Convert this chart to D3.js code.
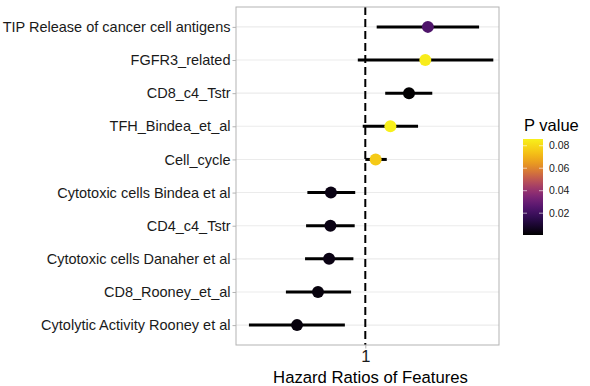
<!DOCTYPE html>
<html>
<head>
<meta charset="utf-8">
<script src="https://cdn.jsdelivr.net/npm/d3@7"></script>
<style>
  body { margin: 0; background: #fff; }
  text { font-family: "Liberation Sans", Arial, sans-serif; }
</style>
</head>
<body>
<div id="chart"></div>
<script>
// features listed top to bottom
const features = [
  "TIP Release of cancer cell antigens",
  "FGFR3_related",
  "CD8_c4_Tstr",
  "TFH_Bindea_et_al",
  "Cell_cycle",
  "Cytotoxic cells Bindea et al",
  "CD4_c4_Tstr",
  "Cytotoxic cells Danaher et al",
  "CD8_Rooney_et_al",
  "Cytolytic Activity Rooney et al"
];
const hazardRatio = [1.242, 1.232, 1.169, 1.097, 1.040, 0.867, 0.865, 0.860, 0.817, 0.736];
const lowerCI     = [1.044, 0.971, 1.077, 0.990, 1.000, 0.776, 0.771, 0.767, 0.693, 0.550];
const upperCI     = [1.440, 1.495, 1.259, 1.204, 1.083, 0.961, 0.959, 0.954, 0.945, 0.921];
const pValues     = [0.024, 0.085, 0.0008, 0.086, 0.076, 0.004, 0.004, 0.004, 0.003, 0.003];
const xTicks = [1];
const legendTicks = [0.02, 0.04, 0.06, 0.08];

const W = 590, H = 386;
const panel = {left: 236, right: 499, top: 7, bottom: 345};

const svg = d3.select("#chart").append("svg")
    .attr("width", W)
    .attr("height", H);

const x = d3.scaleLinear()
    .domain([0.5, 1.517])
    .range([panel.left, panel.right]);

const y = d3.scalePoint()
    .domain(features)
    .range([panel.top, panel.bottom])
    .padding(0.6);

const pExtent = [0.0006, 0.086];
const colorStops = ["#000000", "#3f0f78", "#a8307a", "#f5a00c", "#f8f01c"];
const color = d3.scaleSequential(d3.interpolateRgbBasis(colorStops)).domain(pExtent);

const rows = features.map((f, i) => ({
    name: f, hr: hazardRatio[i], lo: lowerCI[i], hi: upperCI[i], p: pValues[i]
}));

// grid lines
svg.append("g")
    .selectAll("line")
    .data(features)
    .join("line")
    .attr("x1", panel.left).attr("x2", panel.right)
    .attr("y1", d => y(d)).attr("y2", d => y(d))
    .attr("stroke", "#ebebeb")
    .attr("stroke-width", 1.1);

// reference line at HR = 1
svg.append("line")
    .attr("x1", x(1)).attr("x2", x(1))
    .attr("y1", panel.top).attr("y2", panel.bottom)
    .attr("stroke", "#000")
    .attr("stroke-width", 2)
    .attr("stroke-dasharray", "8,4");

// confidence intervals
svg.append("g")
    .selectAll("line")
    .data(rows)
    .join("line")
    .attr("x1", d => x(d.lo)).attr("x2", d => x(d.hi))
    .attr("y1", d => y(d.name)).attr("y2", d => y(d.name))
    .attr("stroke", "#000")
    .attr("stroke-width", 3);

// points
svg.append("g")
    .selectAll("circle")
    .data(rows)
    .join("circle")
    .attr("cx", d => x(d.hr))
    .attr("cy", d => y(d.name))
    .attr("r", 6)
    .attr("fill", d => color(d.p));

// panel border
svg.append("rect")
    .attr("x", panel.left).attr("y", panel.top)
    .attr("width", panel.right - panel.left)
    .attr("height", panel.bottom - panel.top)
    .attr("fill", "none")
    .attr("stroke", "#b3b3b3")
    .attr("stroke-width", 1);

// y axis
const yAxis = svg.append("g")
    .attr("transform", `translate(${panel.left},0)`)
    .call(d3.axisLeft(y).tickSize(3.5).tickPadding(2));
yAxis.select(".domain").remove();
yAxis.selectAll(".tick line").attr("stroke", "#b3b3b3");
yAxis.selectAll(".tick text")
    .attr("fill", "#1a1a1a")
    .style("font-size", "14.5px")
    .style("font-family", "'Liberation Sans', Arial, sans-serif");

// x axis
const xAxis = svg.append("g")
    .attr("transform", `translate(0,${panel.bottom})`)
    .call(d3.axisBottom(x).tickValues(xTicks).tickFormat(d3.format("d")).tickSize(3.5).tickPadding(2));
xAxis.select(".domain").remove();
xAxis.selectAll(".tick line").attr("stroke", "#b3b3b3");
xAxis.selectAll(".tick text")
    .attr("fill", "#1a1a1a")
    .style("font-size", "16.5px")
    .style("font-family", "'Liberation Sans', Arial, sans-serif");

svg.append("text")
    .attr("x", (panel.left + panel.right) / 2 + 3)
    .attr("y", 383)
    .attr("text-anchor", "middle")
    .style("font-size", "16.7px")
    .attr("fill", "#000")
    .text("Hazard Ratios of Features");

// legend
const bar = {x: 523, y: 139, w: 20, h: 96};
const legend = svg.append("g");
legend.append("text")
    .attr("x", 524).attr("y", 131)
    .style("font-size", "16.5px")
    .text("P value");

const defs = svg.append("defs");
const grad = defs.append("linearGradient")
    .attr("id", "pgrad")
    .attr("x1", 0).attr("y1", 1).attr("x2", 0).attr("y2", 0);
d3.range(0, 1.0001, 0.05).forEach(t => {
    grad.append("stop")
        .attr("offset", t)
        .attr("stop-color", color(pExtent[0] + t * (pExtent[1] - pExtent[0])));
});

const legendY = d3.scaleLinear().domain(pExtent).range([bar.y + bar.h, bar.y]);

legend.append("rect")
    .attr("x", bar.x).attr("y", bar.y)
    .attr("width", bar.w).attr("height", bar.h)
    .attr("fill", "url(#pgrad)");

legend.append("g")
    .selectAll("g")
    .data(legendTicks)
    .join("g")
    .each(function(d) {
        const g = d3.select(this);
        const ty = legendY(d);
        g.append("line").attr("x1", bar.x).attr("x2", bar.x + 4)
            .attr("y1", ty).attr("y2", ty).attr("stroke", "#fff").attr("stroke-opacity", 0.6);
        g.append("line").attr("x1", bar.x + bar.w - 4).attr("x2", bar.x + bar.w)
            .attr("y1", ty).attr("y2", ty).attr("stroke", "#fff").attr("stroke-opacity", 0.6);
        g.append("text")
            .attr("x", bar.x + bar.w + 6)
            .attr("y", ty)
            .attr("dy", "0.35em")
            .style("font-size", "10.5px")
            .attr("fill", "#1a1a1a")
            .text(d.toFixed(2));
    });
</script>
</body>
</html>
